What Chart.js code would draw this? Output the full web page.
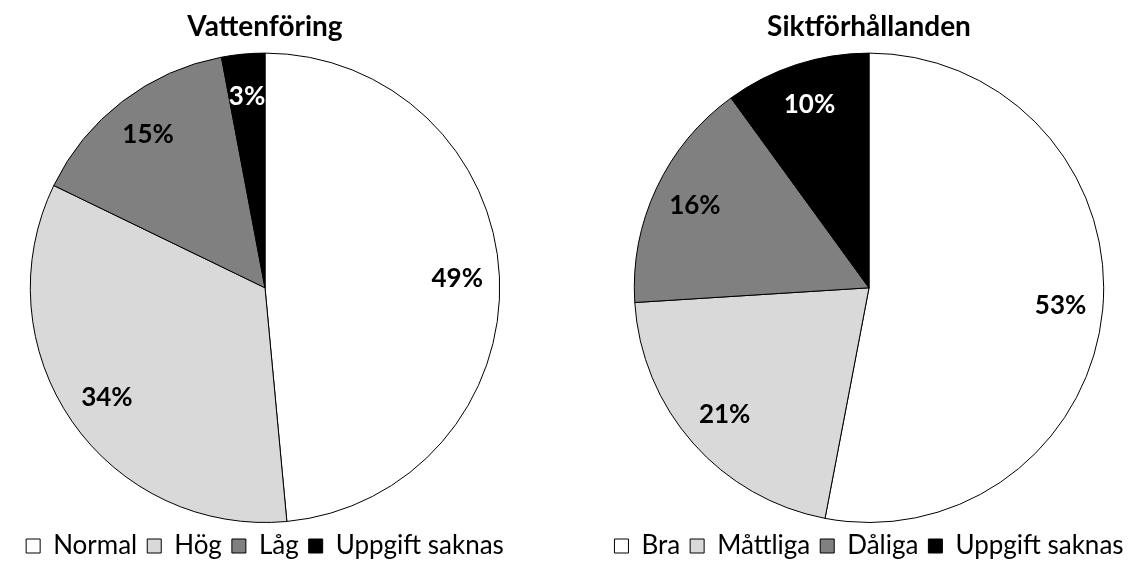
<!DOCTYPE html>
<html>
<head>
<meta charset="utf-8">
<script src="https://cdn.jsdelivr.net/npm/chart.js@4/dist/chart.umd.min.js"></script>
<style>
  html, body { margin: 0; padding: 0; background: #fff; overflow: hidden; }
  .box { position: absolute; top: 0; width: 530px; height: 569px; }
  #left { left: 0; }
  #right { left: 604px; }
</style>
</head>
<body>
<div class="box" id="left"><canvas id="vatten"></canvas></div>
<div class="box" id="right"><canvas id="sikt"></canvas></div>
<script>
const vattenLabels = ['Normal', 'Hög', 'Låg', 'Uppgift saknas'];
const vattenValues = [49, 34, 15, 3];
const siktLabels = ['Bra', 'Måttliga', 'Dåliga', 'Uppgift saknas'];
const siktValues = [53, 21, 16, 10];
const sliceColors = ['#ffffff', '#d9d9d9', '#808080', '#000000'];
const textColors = ['#000000', '#000000', '#000000', '#ffffff'];

// percent labels inside the slices
const sliceLabels = {
  id: 'sliceLabels',
  afterDatasetsDraw(chart) {
    const ctx = chart.ctx;
    const meta = chart.getDatasetMeta(0);
    const values = chart.data.datasets[0].data;
    ctx.save();
    ctx.font = 'bold 26px Lato';
    ctx.textAlign = 'center';
    ctx.textBaseline = 'middle';
    meta.data.forEach((arc, i) => {
      const mid = (arc.startAngle + arc.endAngle) / 2;
      const r = arc.outerRadius * 0.82;
      ctx.fillStyle = textColors[i];
      ctx.fillText(values[i] + '%', arc.x + Math.cos(mid) * r, arc.y + Math.sin(mid) * r);
    });
    ctx.restore();
  }
};

function makePie(id, title, labels, values) {
  return new Chart(document.getElementById(id), {
    type: 'pie',
    data: {
      labels: labels,
      datasets: [{
        data: values,
        backgroundColor: sliceColors,
        borderColor: '#000000',
        borderWidth: 1
      }]
    },
    options: {
      responsive: true,
      maintainAspectRatio: false,
      animation: false,
      layout: { padding: 0 },
      plugins: {
        title: {
          display: true,
          text: title,
          color: '#000000',
          padding: { top: 10, bottom: 9 },
          font: { size: 28, weight: 'bold', family: 'Lato' }
        },
        legend: {
          position: 'bottom',
          labels: {
            color: '#000000',
            boxWidth: 14,
            boxHeight: 14,
            padding: 10,
            font: { size: 26, family: 'Lato' }
          }
        },
        tooltip: { enabled: false }
      }
    },
    plugins: [sliceLabels]
  });
}

makePie('vatten', 'Vattenföring', vattenLabels, vattenValues);
makePie('sikt', 'Siktförhållanden', siktLabels, siktValues);
</script>
</body>
</html>
